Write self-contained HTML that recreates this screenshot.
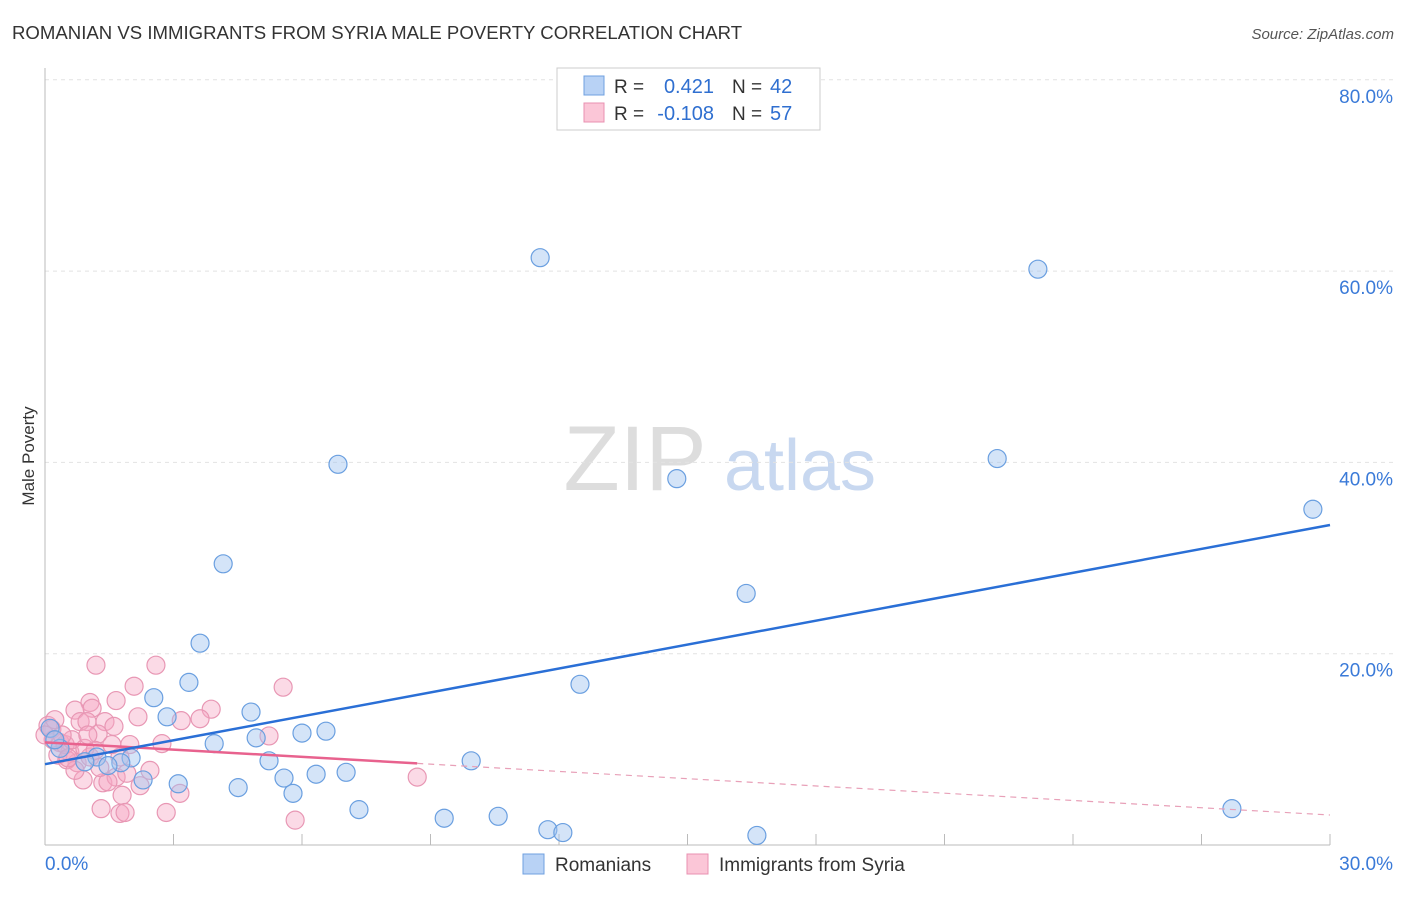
<!DOCTYPE html>
<html><head><meta charset="utf-8"><style>
body{margin:0;background:#fff;font-family:"Liberation Sans",sans-serif;}
svg text{font-family:"Liberation Sans",sans-serif;}
</style></head><body>
<svg width="1406" height="892" xmlns="http://www.w3.org/2000/svg">
<text x="12" y="39" font-size="18.6" fill="#333">ROMANIAN VS IMMIGRANTS FROM SYRIA MALE POVERTY CORRELATION CHART</text>
<text x="1394" y="39" font-size="15" fill="#555" font-style="italic" text-anchor="end">Source: ZipAtlas.com</text>
<text x="635" y="490" font-size="92" fill="#ddd" font-family="Liberation Serif" text-anchor="middle">ZIP</text>
<text x="800" y="490" font-size="72" fill="#c8d8f0" text-anchor="middle">atlas</text>
<g id="grid"></g>
<g id="axes"></g>
<g id="marks"></g>
<text transform="translate(34,456) rotate(-90)" font-size="17" fill="#333" text-anchor="middle">Male Poverty</text>
<g>
<rect x="557" y="68" width="263" height="62" fill="#fff" stroke="#ccc"/>
<rect x="584" y="76" width="20" height="19" fill="#b8d2f5" stroke="#6fa0e0"/>
<rect x="584" y="103" width="20" height="19" fill="#fbc6d7" stroke="#e890b0"/>
<text x="614" y="93" font-size="19" fill="#333">R =</text>
<text x="714" y="93" font-size="20" fill="#2f6fd0" text-anchor="end">0.421</text>
<text x="732" y="93" font-size="19" fill="#333">N =</text>
<text x="770" y="93" font-size="20" fill="#2f6fd0">42</text>
<text x="614" y="120" font-size="19" fill="#333">R =</text>
<text x="714" y="120" font-size="20" fill="#2f6fd0" text-anchor="end">-0.108</text>
<text x="732" y="120" font-size="19" fill="#333">N =</text>
<text x="770" y="120" font-size="20" fill="#2f6fd0">57</text>
</g>
<g>
<rect x="523" y="854" width="21" height="20" fill="#b8d2f5" stroke="#6fa0e0"/>
<text x="555" y="871" font-size="19" fill="#333">Romanians</text>
<rect x="687" y="854" width="21" height="20" fill="#fbc6d7" stroke="#e890b0"/>
<text x="719" y="871" font-size="19" fill="#333">Immigrants from Syria</text>
</g>
</svg>
<script>
const blueX=[11.56,23.18,6.84,14.75,22.23,29.6,4.16,16.37,3.62,12.49,2.54,3.36,2.85,4.81,6.0,6.56,4.93,3.95,5.23,5.58,6.33,7.03,5.79,4.51,3.11,2.29,2.01,1.77,1.21,1.47,0.93,9.95,7.33,9.32,10.58,11.74,12.09,16.62,27.71,0.12,0.35,0.23];
const blueY=[61.4,60.2,39.8,38.3,40.4,35.1,29.4,26.3,21.1,16.8,15.4,17.0,13.4,13.9,11.7,11.9,11.2,10.6,8.8,7.0,7.4,7.6,5.4,6.0,6.4,6.8,9.1,8.6,9.2,8.3,8.7,8.8,3.7,2.8,3.0,1.6,1.3,1.0,3.8,12.2,10.1,11.0];
const pinkX=[1.19,2.59,2.08,5.56,1.05,1.66,0.70,1.10,3.88,2.17,1.40,1.61,3.62,3.18,0.82,0.98,1.24,2.73,5.23,0.16,0.35,0.58,0.75,0.89,1.35,1.66,1.91,1.80,1.31,1.75,1.87,2.83,3.15,2.22,5.84,1.47,1.05,1.75,0.30,0.51,0.19,8.69,0.07,0.47,0.63,0.93,1.17,0.40,1.28,0.70,1.56,1.98,0.54,0.23,2.45,0,1.0];
const pinkY=[18.8,18.8,16.6,16.5,14.9,15.1,14.1,14.3,14.2,13.4,12.9,12.4,13.2,13.0,12.9,12.9,11.6,10.6,11.4,12.1,10.7,9.7,8.6,6.8,6.5,7.1,7.5,5.2,3.8,3.3,3.4,3.4,5.4,6.2,2.6,6.6,9.2,9.2,9.4,8.9,11.0,7.1,12.5,10.5,11.0,10.1,9.9,11.5,8.1,7.8,10.5,10.5,9.1,13.1,7.8,11.5,11.5];
const yTicks=[20,40,60,80];
const xTickLabels=["0.0%","30.0%"];
const NS="http://www.w3.org/2000/svg";
const X0=45,X1=1330,Y0=845,PX_PER=9.565;
const sx=v=>X0+(X1-X0)*v/30, sy=v=>Y0-v*PX_PER;
function mk(tag,attrs,parent){const e=document.createElementNS(NS,tag);for(const k in attrs)e.setAttribute(k,attrs[k]);parent.appendChild(e);return e;}
const grid=document.getElementById('grid'),axes=document.getElementById('axes'),marks=document.getElementById('marks');
yTicks.forEach(t=>{
 const l=mk('line',{x1:X0,x2:1395,y1:sy(t),y2:sy(t),stroke:'#e2e2e2','stroke-dasharray':'4,4'},grid);
 
 
 const tx=mk('text',{x:1393,y:sy(t)+23,'font-size':19,fill:'#3a7ad8','text-anchor':'end'},axes);
 tx.textContent=t.toFixed(1)+'%';
 
 
});
const ya=mk('line',{x1:X0,x2:X0,y1:68,y2:Y0,stroke:'#bbb'},axes);


const xa=mk('line',{x1:X0,x2:X1,y1:Y0,y2:Y0,stroke:'#bbb'},axes);


for(let i=0;i<=10;i++){const t=mk('line',{x1:sx(i*3),x2:sx(i*3),y1:834,y2:Y0,stroke:'#bbb'},axes);
 
 }
[[0,'start',45],[1,'end',1393]].forEach(([i,a,x])=>{const t=mk('text',{x:x,y:870,'font-size':19,fill:'#3a7ad8','text-anchor':a},axes);t.textContent=xTickLabels[i];
 
 });
function fit(xs,ys){const n=xs.length;let mx=0,my=0;for(let i=0;i<n;i++){mx+=xs[i];my+=ys[i];}mx/=n;my/=n;let a=0,b=0;for(let i=0;i<n;i++){a+=(xs[i]-mx)*(ys[i]-my);b+=(xs[i]-mx)**2;}const s=a/b;return [s,my-s*mx];}
function pts(xs,ys,fill,stroke,name){xs.forEach((x,i)=>{const c=mk('circle',{cx:sx(x),cy:sy(ys[i]),r:9,fill:fill,stroke:stroke,'stroke-width':1.2},marks);
 
 });}
pts(pinkX,pinkY,'rgba(246,168,195,0.42)','#e897b4','syria-point');
pts(blueX,blueY,'rgba(160,195,240,0.45)','#6a9fe0','romanian-point');
const [pb,pa]=fit(pinkX,pinkY);const pmax=Math.max(...pinkX);
const pl=mk('line',{x1:sx(0),y1:sy(pa),x2:sx(pmax),y2:sy(pa+pb*pmax),stroke:'#e8628e','stroke-width':2.5},marks);


const pd=mk('line',{x1:sx(pmax),y1:sy(pa+pb*pmax),x2:sx(30),y2:sy(pa+pb*30),stroke:'#e8a0b8','stroke-width':1.2,'stroke-dasharray':'6,5'},marks);


const [bb,ba]=fit(blueX,blueY);
const bl=mk('line',{x1:sx(0),y1:sy(ba),x2:sx(30),y2:sy(ba+bb*30),stroke:'#2a6fd6','stroke-width':2.5},marks);


</script>
</body></html>
